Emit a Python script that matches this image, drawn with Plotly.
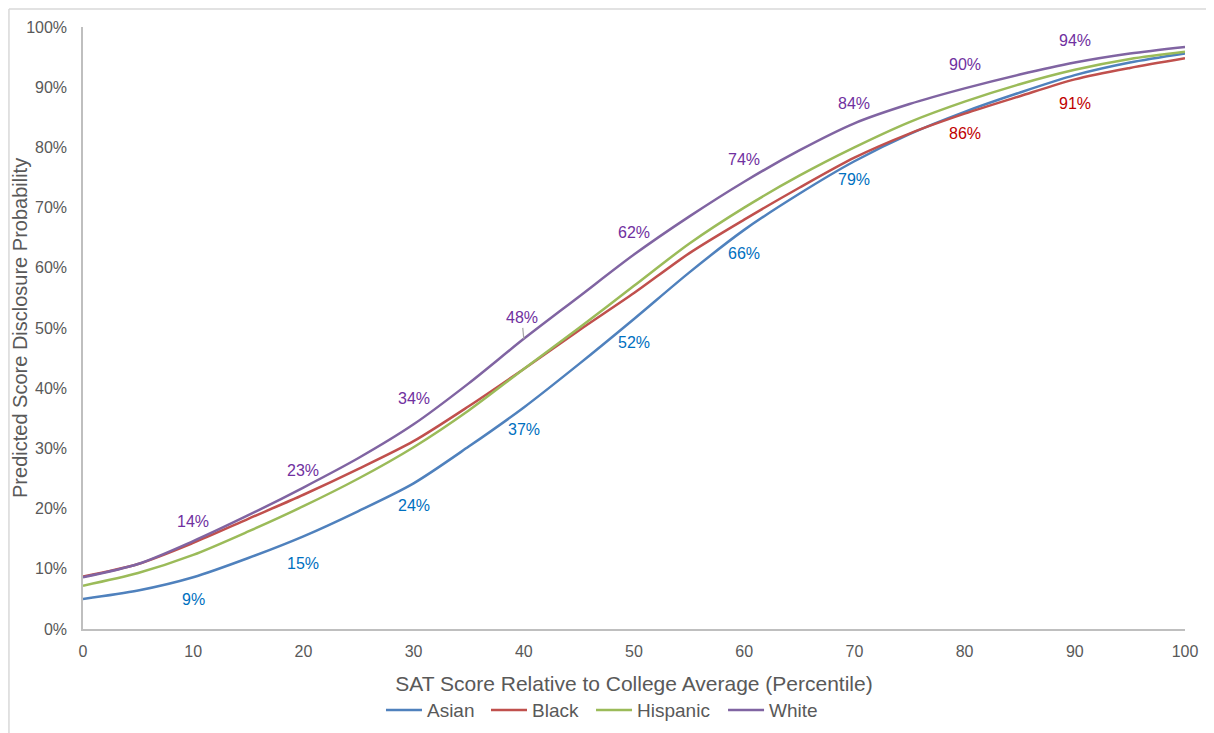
import plotly.graph_objects as go

# ---- data ----
percentile = [0, 5, 10, 15, 20, 25, 30, 35, 40, 45, 50, 55, 60, 65, 70, 75, 80, 85, 90, 95, 100]
asian =    [5.0, 6.4, 8.6, 11.8, 15.4, 19.6, 24.2, 30.3, 36.8, 44.0, 51.5, 59.2, 66.3, 72.3, 77.7, 82.2, 85.9, 89.1, 92.0, 94.1, 95.6]
black =    [8.7, 10.8, 14.3, 18.3, 22.3, 26.6, 31.2, 37.0, 43.2, 49.6, 55.8, 62.4, 68.0, 73.3, 78.3, 82.3, 85.6, 88.5, 91.3, 93.2, 94.8]
hispanic = [7.2, 9.3, 12.3, 16.2, 20.4, 25.0, 30.2, 36.3, 43.2, 50.0, 57.0, 64.0, 70.0, 75.3, 80.0, 84.2, 87.6, 90.5, 92.9, 94.7, 95.9]
white =    [8.6, 10.8, 14.6, 18.9, 23.5, 28.4, 34.0, 40.8, 48.2, 55.2, 62.2, 68.5, 74.3, 79.5, 84.0, 87.2, 89.8, 92.1, 94.1, 95.6, 96.7]

# data labels: percentile -> displayed value
white_labels = {10: 14, 20: 23, 30: 34, 40: 48, 50: 62, 60: 74, 70: 84, 80: 90, 90: 94}
asian_labels = {10: 9, 20: 15, 30: 24, 40: 37, 50: 52, 60: 66, 70: 79}
black_labels = {80: 86, 90: 91}

x_ticks = list(range(0, 101, 10))
y_ticks = list(range(0, 101, 10))

FONT = "Liberation Sans, Arial, sans-serif"
GRAY = "#595959"

series = [
    ("Asian", asian, "#4F81BD", "legend"),
    ("Black", black, "#C0504D", "legend2"),
    ("Hispanic", hispanic, "#9BBB59", "legend3"),
    ("White", white, "#8064A2", "legend4"),
]

fig = go.Figure()
for name, vals, col, lg in series:
    fig.add_trace(go.Scatter(
        x=percentile, y=vals, name=name, mode="lines", legend=lg,
        line=dict(color=col, width=2.5, shape="spline", smoothing=0.8),
    ))

annotations = []
# label pixel offsets (layout only)
white_shift = {10: 20, 20: 17, 30: 26, 40: 21, 50: 22, 60: 22, 70: 20, 80: 24, 90: 22}
asian_shift = {10: -22, 20: -27, 30: -22, 40: -22, 50: -24, 60: -24, 70: -18}
black_shift = {80: -20, 90: -24}


def add_labels(labels, vals, shifts, color, arrow_at=None):
    for xv, lab in labels.items():
        yv = vals[percentile.index(xv)]
        if arrow_at is not None and xv == arrow_at:
            annotations.append(dict(
                x=xv, y=yv, xref="x", yref="y", text=f"{lab}%",
                showarrow=True, arrowhead=0, arrowwidth=1.2, arrowcolor="#A6A6A6",
                ax=-2, ay=-shifts[xv], standoff=0,
                font=dict(family=FONT, size=16, color=color)))
        else:
            annotations.append(dict(
                x=xv, y=yv, xref="x", yref="y", text=f"{lab}%",
                showarrow=False, yshift=shifts[xv],
                font=dict(family=FONT, size=16, color=color)))


add_labels(white_labels, white, white_shift, "#7030A0", arrow_at=40)
add_labels(asian_labels, asian, asian_shift, "#0070C0")
add_labels(black_labels, black, black_shift, "#C00000")

# y-axis title as rotated annotation
annotations.append(dict(
    x=-0.0572, y=0.5, xref="paper", yref="paper",
    text="Predicted Score Disclosure Probability", textangle=-90,
    showarrow=False, xanchor="center", yanchor="middle",
    font=dict(family=FONT, size=20, color=GRAY)))

legend_common = dict(orientation="h", xanchor="left", y=-0.1346, yanchor="middle",
                     font=dict(family=FONT, size=19, color=GRAY), itemwidth=36,
                     bgcolor="rgba(0,0,0,0)")

fig.update_layout(
    width=1206, height=725,
    margin=dict(l=75, r=29, t=19, b=104, autoexpand=False),
    paper_bgcolor="white", plot_bgcolor="white",
    font=dict(family=FONT, color=GRAY, size=16),
    showlegend=True,
    legend=dict(x=0.2704, **legend_common),
    legend2=dict(x=0.3657, **legend_common),
    legend3=dict(x=0.4610, **legend_common),
    legend4=dict(x=0.5808, **legend_common),
    annotations=annotations,
    shapes=[
        dict(type="line", xref="paper", yref="paper", x0=-0.0672, x1=1.03, y0=1.0299, y1=1.0299,
             line=dict(color="#D9D9D9", width=1.5)),
        dict(type="line", xref="paper", yref="paper", x0=-0.0672, x1=-0.0672, y0=1.0299, y1=-0.18,
             line=dict(color="#D9D9D9", width=1.5)),
    ],
)

fig.update_xaxes(
    range=[0, 100], tickvals=x_ticks, ticktext=[str(v) for v in x_ticks],
    showgrid=False, zeroline=False, showline=True, linecolor="#BFBFBF", linewidth=1.5,
    ticks="", ticklabelstandoff=7,
    tickfont=dict(family=FONT, size=16, color=GRAY),
    title=dict(text="SAT Score Relative to College Average (Percentile)", standoff=17,
               font=dict(family=FONT, size=21, color=GRAY)),
)
fig.update_yaxes(
    range=[0, 100], tickvals=y_ticks, ticktext=[f"{v}%" for v in y_ticks],
    showgrid=False, zeroline=False, showline=True, linecolor="#BFBFBF", linewidth=1.5,
    ticks="", ticklabelstandoff=11,
    tickfont=dict(family=FONT, size=16, color=GRAY),
)

fig.write_html("out.html")
